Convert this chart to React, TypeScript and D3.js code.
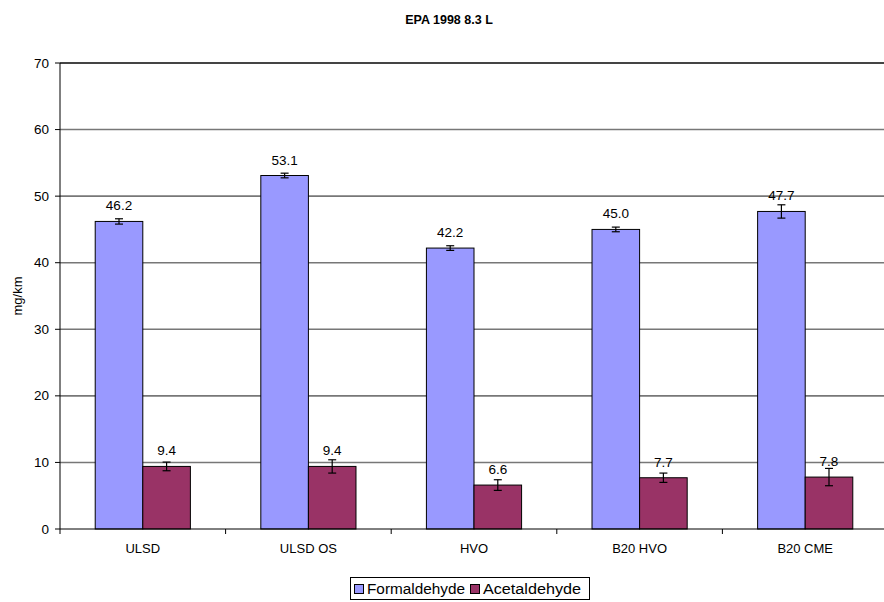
import React from "react";
import * as d3 from "d3";

const categories = ["ULSD", "ULSD OS", "HVO", "B20 HVO", "B20 CME"];
const seriesNames = ["Formaldehyde", "Acetaldehyde"];
const formaldehyde = [46.2, 53.1, 42.2, 45.0, 47.7];
const acetaldehyde = [9.4, 9.4, 6.6, 7.7, 7.8];
const formaldehydeErr = [0.4, 0.35, 0.35, 0.35, 1.0];
const acetaldehydeErr = [0.65, 1.0, 0.8, 0.7, 1.3];
const yTicks = [0, 10, 20, 30, 40, 50, 60, 70];
const colors = ["#9999FF", "#993366"];

const W = 884;
const H = 602;
const left = 60;
const right = 888;
const top = 63;
const bottom = 529;
const font = "Liberation Sans, Arial, sans-serif";

export default function App() {
  const x = d3.scaleBand<string>().domain(categories).range([left, right]).paddingInner(0).paddingOuter(0);
  const inner = d3.scaleBand<string>().domain(seriesNames).range([0, x.bandwidth()]).paddingInner(0).paddingOuter(0.74);
  const y = d3.scaleLinear().domain([0, 70]).range([bottom, top]);
  const series = [
    { name: seriesNames[0], values: formaldehyde, errs: formaldehydeErr, color: colors[0] },
    { name: seriesNames[1], values: acetaldehyde, errs: acetaldehydeErr, color: colors[1] },
  ];
  return (
    <svg width={W} height={H} style={{ position: "absolute", left: 0, top: 0, background: "#fff" }} fontFamily={font}>
      <text x={449} y={24} textAnchor="middle" fontSize={12.5} fontWeight="bold">EPA 1998 8.3 L</text>
      {yTicks.map((t) => (
        <g key={t}>
          {t > 0 && (
            <line x1={left} x2={W} y1={y(t)} y2={y(t)} stroke={t === 70 ? "#444" : "#777"} strokeWidth={t === 70 ? 2 : 1.6} />
          )}
          <line x1={left - 5} x2={left} y1={y(t)} y2={y(t)} stroke="#000" />
          <text x={left - 11} y={y(t) + 4.5} textAnchor="end" fontSize={13.5}>{t}</text>
        </g>
      ))}
      {series.map((s, si) =>
        categories.map((c, ci) => {
          const bx = (x(c) as number) + (inner(s.name) as number);
          const bw = inner.bandwidth();
          const v = s.values[ci];
          const e = s.errs[ci];
          const cx = bx + bw / 2;
          return (
            <g key={s.name + c}>
              <rect x={bx} y={y(v)} width={bw} height={bottom - y(v)} fill={s.color} stroke="#000" strokeWidth={1} />
              <line x1={cx} x2={cx} y1={y(v + e)} y2={y(v - e)} stroke="#000" strokeWidth={1.2} />
              <line x1={cx - 4} x2={cx + 4} y1={y(v + e)} y2={y(v + e)} stroke="#000" strokeWidth={1.2} />
              <line x1={cx - 4} x2={cx + 4} y1={y(v - e)} y2={y(v - e)} stroke="#000" strokeWidth={1.2} />
              <text x={cx} y={y(v) - 11} textAnchor="middle" fontSize={13.5}>{v.toFixed(1)}</text>
            </g>
          );
        })
      )}
      <line x1={left} x2={left} y1={top} y2={bottom} stroke="#000" />
      <line x1={left} x2={W} y1={bottom} y2={bottom} stroke="#000" />
      {categories.map((c, i) => (
        <g key={c}>
          <line x1={(x(c) as number)} x2={(x(c) as number)} y1={bottom} y2={bottom + 5} stroke="#000" />
          <text x={(x(c) as number) + x.bandwidth() / 2} y={553} textAnchor="middle" fontSize={13}>{c}</text>
        </g>
      ))}
      <text transform={`translate(22,${(top + bottom) / 2}) rotate(-90)`} textAnchor="middle" fontSize={13}>mg/km</text>
      <g>
        <rect x={350.5} y={577.5} width={239} height={22} fill="#fff" stroke="#000" />
        {series.map((s, i) => {
          const ox = i === 0 ? 354.5 : 470.5;
          return (
            <g key={s.name}>
              <rect x={ox} y={584.5} width={9} height={9} fill={s.color} stroke="#000" />
              <text x={ox + 12.5} y={594} fontSize={14} textLength={98} lengthAdjust="spacingAndGlyphs">{s.name}</text>
            </g>
          );
        })}
      </g>
    </svg>
  );
}
